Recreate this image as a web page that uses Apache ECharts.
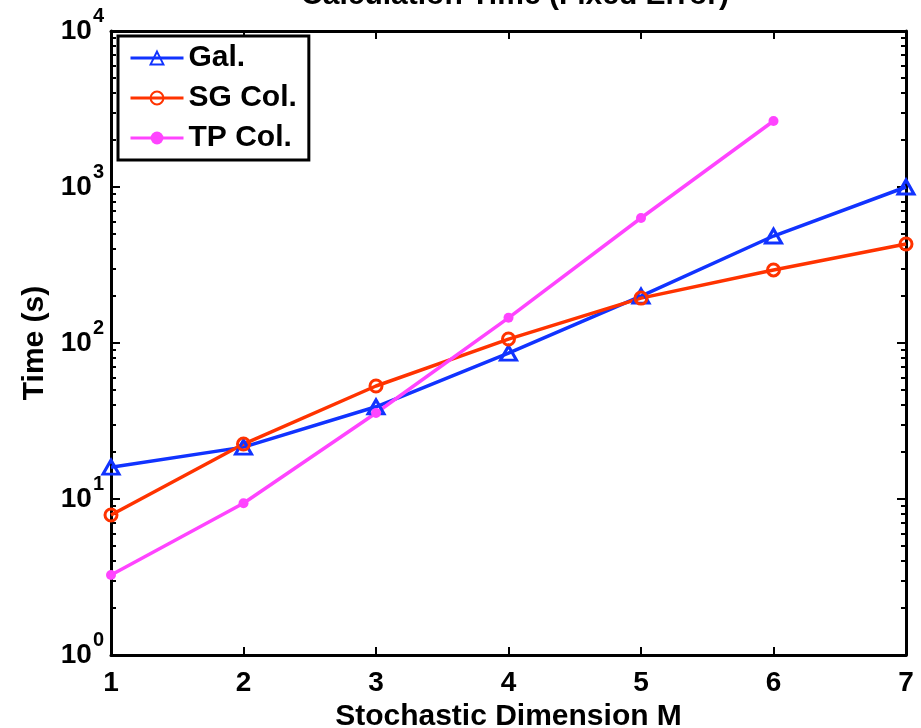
<!DOCTYPE html>
<html><head><meta charset="utf-8">
<script src="https://cdn.jsdelivr.net/npm/echarts@6/dist/echarts.min.js"></script>
<style>html,body{margin:0;padding:0;background:#fff}#c{width:921px;height:728px}</style>
</head><body><div id="c"></div>
<script>
const dims = [1, 2, 3, 4, 5, 6, 7];
const galTime = [16, 21.5, 39, 86, 200, 485, 1000];
const sgTime = [7.9, 22.5, 53, 106, 194, 294, 431];
const tpTime = [3.26, 9.4, 35.6, 145, 633, 2650];
const yTickExp = ['0', '1', '2', '3', '4'];

const font = '"Liberation Sans", Arial, sans-serif';
const pair = (ys) => ys.map((v, i) => [dims[i], v]);
const ax = {color: '#000', fontFamily: font, fontWeight: 'bold'};
const blue = '#1133ff', red = '#ff3300', pink = '#ff44ff';

const chart = echarts.init(document.getElementById('c'));
chart.setOption({
  animation: false,
  title: {text: 'Calculation Time (Fixed Error)', left: 510, textAlign: 'center', top: -24,
    textStyle: {fontFamily: font, fontWeight: 'bold', fontSize: 30, color: '#000'}},
  grid: {left: 111, right: 15, top: 31, bottom: 73, outerBoundsMode: 'none', containLabel: false},
  legend: {
    left: 118, top: 36, orient: 'vertical', borderColor: '#000', borderWidth: 3,
    padding: [7, 12, 7, 11], itemGap: 10, itemWidth: 53, itemHeight: 16, backgroundColor: '#fff',
    lineStyle: {width: 3},
    textStyle: {fontFamily: font, fontWeight: 'bold', fontSize: 30, color: '#000', lineHeight: 30},
    data: ['Gal.', 'SG Col.', 'TP Col.']
  },
  xAxis: [{
    type: 'value', min: 1, max: 7, interval: 1,
    name: 'Stochastic Dimension M', nameLocation: 'middle', nameGap: 42,
    nameTextStyle: Object.assign({fontSize: 30}, ax),
    axisLine: {lineStyle: {color: '#000', width: 3}},
    axisTick: {inside: true, length: 8, lineStyle: {color: '#000', width: 2}},
    axisLabel: Object.assign({fontSize: 28, margin: 14}, ax),
    splitLine: {show: false}
  }, {
    type: 'value', min: 1, max: 7, interval: 1, position: 'top',
    axisLine: {lineStyle: {color: '#000', width: 3}},
    axisTick: {inside: true, length: 8, lineStyle: {color: '#000', width: 2}},
    axisLabel: {show: false}, splitLine: {show: false}
  }],
  yAxis: [{
    type: 'log', logBase: 10, min: 1, max: 10000,
    name: 'Time (s)', nameLocation: 'middle', nameGap: 61,
    nameTextStyle: Object.assign({fontSize: 30}, ax),
    axisLine: {lineStyle: {color: '#000', width: 3}},
    axisTick: {inside: true, length: 9, lineStyle: {color: '#000', width: 2}},
    minorTick: {show: true, splitNumber: 9, length: 5, lineStyle: {color: '#000', width: 2}},
    axisLabel: {
      margin: 7,
      formatter: (v) => '{b|10}{s|' + yTickExp[Math.round(Math.log10(v))] + '}',
      rich: {
        b: Object.assign({fontSize: 28}, ax),
        s: Object.assign({fontSize: 20, verticalAlign: 'top', padding: [0, 0, 30, 1]}, ax)
      }
    },
    splitLine: {show: false}
  }, {
    type: 'log', logBase: 10, min: 1, max: 10000, position: 'right',
    axisLine: {lineStyle: {color: '#000', width: 3}},
    axisTick: {inside: true, length: 9, lineStyle: {color: '#000', width: 2}},
    minorTick: {show: true, splitNumber: 9, length: 5, lineStyle: {color: '#000', width: 2}},
    axisLabel: {show: false}, splitLine: {show: false}
  }],
  series: [{
    name: 'Gal.', type: 'line', data: pair(galTime), color: blue,
    symbol: 'triangle', symbolSize: [16, 14],
    lineStyle: {width: 3.5, color: blue},
    itemStyle: {color: 'rgba(255,255,255,0)', borderColor: blue, borderWidth: 3}
  }, {
    name: 'SG Col.', type: 'line', data: pair(sgTime), color: red,
    symbol: 'circle', symbolSize: 12,
    lineStyle: {width: 3.5, color: red},
    itemStyle: {color: 'rgba(255,255,255,0)', borderColor: red, borderWidth: 3}
  }, {
    name: 'TP Col.', type: 'line', data: pair(tpTime), color: pink,
    symbol: 'circle', symbolSize: 10,
    lineStyle: {width: 3.5, color: pink}, itemStyle: {color: pink}
  }]
});
</script></body></html>
